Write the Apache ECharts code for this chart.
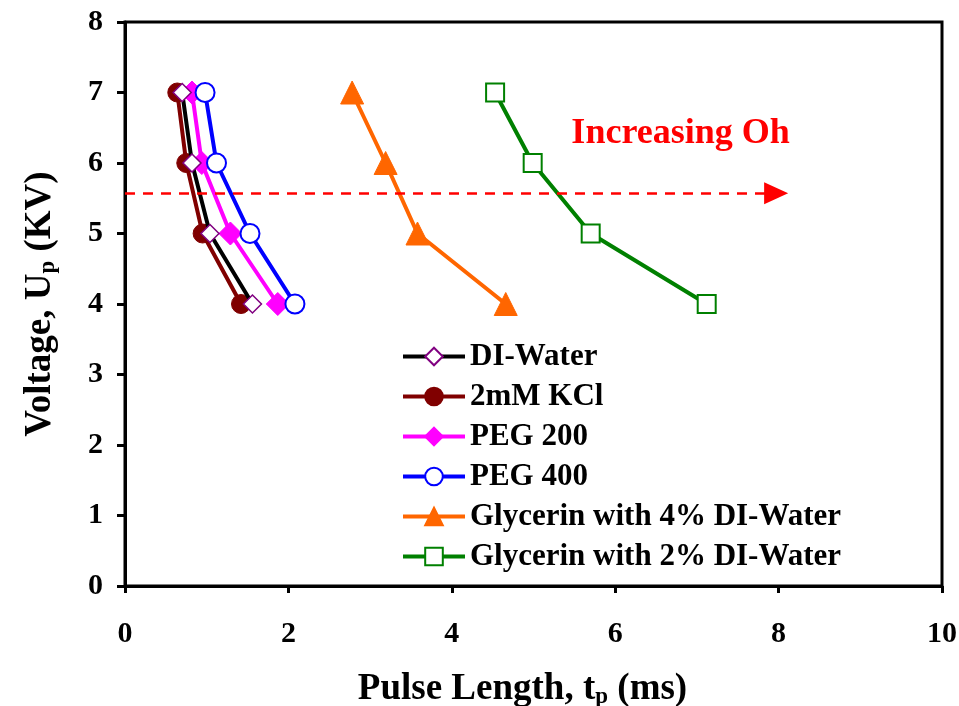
<!DOCTYPE html>
<html><head><meta charset="utf-8">
<script src="https://cdn.jsdelivr.net/npm/echarts@6/dist/echarts.min.js"></script>
<style>html,body{margin:0;padding:0;background:#fff}#c{width:959px;height:706px}</style>
</head><body><div id="c"></div>
<script>
const voltages = [7, 6, 5, 4];
const diWater = [0.70, 0.82, 1.04, 1.56];
const kcl = [0.64, 0.75, 0.95, 1.42];
const peg200 = [0.82, 0.94, 1.29, 1.87];
const peg400 = [0.98, 1.12, 1.53, 2.08];
const gly4 = [2.78, 3.19, 3.58, 4.66];
const gly2 = [4.53, 4.99, 5.70, 7.12];
const seriesNames = ['DI-Water', '2mM KCl', 'PEG 200', 'PEG 400', 'Glycerin with 4% DI-Water', 'Glycerin with 2% DI-Water'];
const xTicks = [0, 2, 4, 6, 8, 10];
const yTicks = [0, 1, 2, 3, 4, 5, 6, 7, 8];
const arrowY = 5.57, arrowX0 = 0, arrowX1 = 7.97;
const annotText = 'Increasing Oh';
const annotPos = [6.8, 6.42];

const FONT = "'Liberation Serif','Times New Roman',serif";
function pts(xs) { return xs.map((x, i) => [x, voltages[i]]); }

const chart = echarts.init(document.getElementById('c'));
const mk = (name, xs, color, symbol, size, fill, border, bw) => ({
  name, type: 'line', data: pts(xs), symbol, symbolSize: size,
  lineStyle: { color, width: 4 },
  itemStyle: { color: fill, borderColor: border, borderWidth: bw },
  emphasis: { disabled: true }, z: 3
});
chart.setOption({
  animation: false,
  grid: { left: 125, right: 17, top: 22, bottom: 120, outerBoundsMode: 'none', containLabel: false,
    show: true, borderColor: '#000', borderWidth: 3, backgroundColor: 'transparent' },
  legend: {
    orient: 'vertical', left: 396, top: 336, itemWidth: 62, itemHeight: 22, itemGap: 9,
    lineStyle: { width: 4 },
    textStyle: { fontFamily: FONT, fontWeight: 'bold', fontSize: 31, color: '#000' },
    data: seriesNames
  },
  xAxis: {
    type: 'value', min: 0, max: 10, interval: 2,
    axisLine: { lineStyle: { color: '#000', width: 3 } },
    axisTick: { show: true, inside: false, length: 7, lineStyle: { color: '#000', width: 3 } },
    splitLine: { show: false },
    axisLabel: { margin: 33, fontFamily: FONT, fontWeight: 'bold', fontSize: 30, color: '#000', formatter: v => xTicks.includes(v) ? String(v) : '' },
    name: 'Pulse Length, t{sub|p} (ms)', nameLocation: 'middle', nameGap: 83,
    nameTextStyle: { fontFamily: FONT, fontWeight: 'bold', fontSize: 37, color: '#000', padding: [0, 22, 0, 0],
      rich: { sub: { fontFamily: FONT, fontWeight: 'bold', fontSize: 23, color: '#000', padding: [17, 0, 0, 0] } } }
  },
  yAxis: {
    type: 'value', min: 0, max: 8, interval: 1,
    axisLine: { lineStyle: { color: '#000', width: 3 } },
    axisTick: { show: true, inside: false, length: 8, lineStyle: { color: '#000', width: 3 } },
    splitLine: { show: false },
    axisLabel: { margin: 22, fontFamily: FONT, fontWeight: 'bold', fontSize: 30, color: '#000', formatter: v => yTicks.includes(v) ? String(v) : '' },
    name: 'Voltage, U{sub|p} (KV)', nameLocation: 'middle', nameGap: 65, nameRotate: 90,
    nameTextStyle: { fontFamily: FONT, fontWeight: 'bold', fontSize: 37, color: '#000',
      rich: { sub: { fontFamily: FONT, fontWeight: 'bold', fontSize: 23, color: '#000', padding: [17, 0, 0, 0] } } }
  },
  series: [
    mk(seriesNames[1], kcl, '#800000', 'circle', 19, '#800000', '#800000', 1),
    Object.assign(mk(seriesNames[0], diWater, '#000000', 'diamond', 18, '#ffffff', '#800080', 1.5), { z: 4 }),
    mk(seriesNames[2], peg200, '#ff00ff', 'diamond', 23, '#ff00ff', '#ff00ff', 1),
    mk(seriesNames[3], peg400, '#0000ff', 'circle', 19, '#ffffff', '#0000ff', 2),
    mk(seriesNames[4], gly4, '#ff6600', 'triangle', 23, '#ff6600', '#ff6600', 1),
    mk(seriesNames[5], gly2, '#008000', 'rect', 18, '#ffffff', '#008000', 2),
    {
      name: 'arrow', type: 'line', data: [], silent: true,
      markLine: {
        silent: true, symbol: ['none', 'triangle'], symbolSize: [22, 24],
        lineStyle: { color: '#ff0000', width: 2.5, type: [10, 8] },
        label: { show: false },
        data: [[{ coord: [arrowX0, arrowY] }, { coord: [arrowX1, arrowY] }]]
      },
      markPoint: {
        silent: true, symbol: 'circle', symbolSize: 0,
        label: { show: true, formatter: annotText, color: '#ff0000', fontFamily: FONT, fontWeight: 'bold', fontSize: 36 },
        data: [{ coord: annotPos }]
      }
    }
  ]
});
</script></body></html>
